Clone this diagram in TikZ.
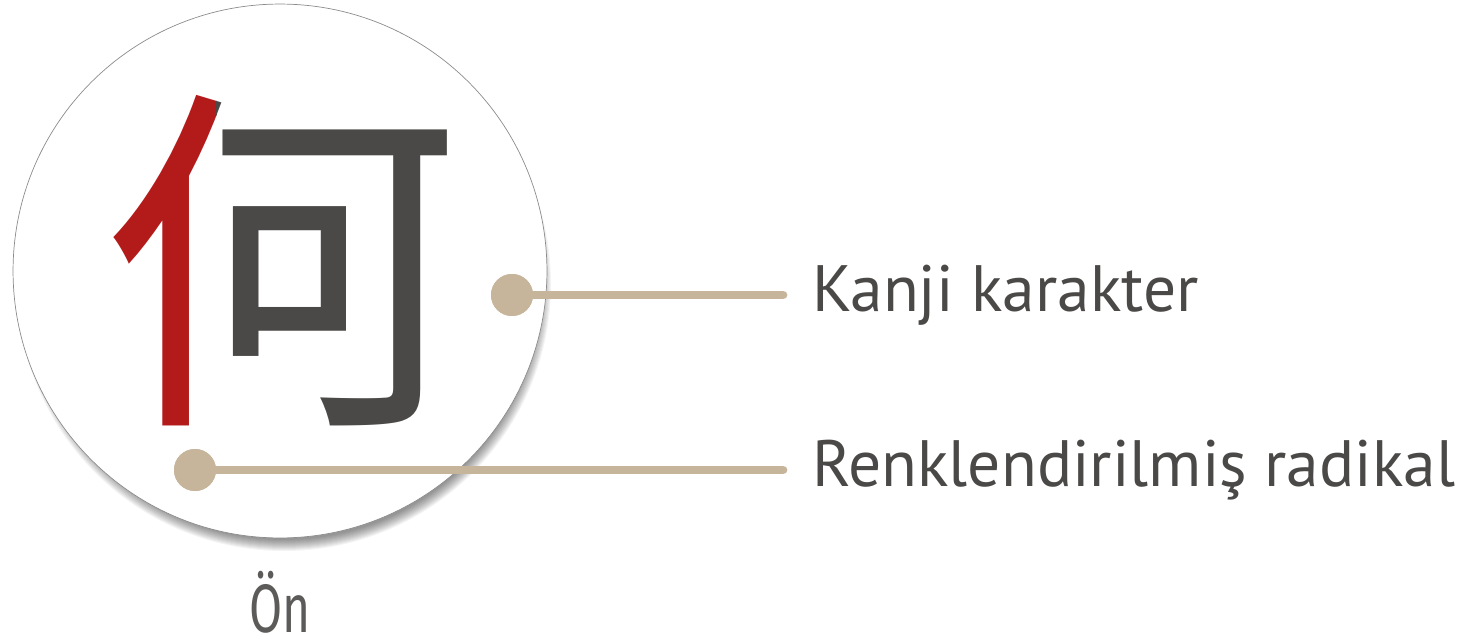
\documentclass[tikz,border=0pt]{standalone}
\usepackage{fontspec}
\setmainfont{PT Sans}
\newfontfamily\cjkfont{Noto Sans CJK JP}
\newfontfamily\capfont{Fira Sans}
\definecolor{radred}{HTML}{B31B1B}
\definecolor{inkgray}{HTML}{4A4947}
\definecolor{leadtan}{HTML}{C6B59A}

\begin{document}
\begin{tikzpicture}[x=0.02cm, y=-0.02cm]
    \tikzset{
        kanji/.style={inner sep=0pt, font=\cjkfont\fontsize{205}{205}\selectfont},
        dot/.style={circle, fill=leadtan, inner sep=0pt, minimum size=0.84cm},
        lead/.style={draw=leadtan, line width=5pt, line cap=round},
        tag/.style={anchor=west, inner sep=0pt, text=inkgray, font=\fontsize{37.3}{40}\selectfont},
    }
    \useasboundingbox (0,0) rectangle (1466,642);

    % Shadow and circle
    \foreach \k in {0,...,11}
        \fill[black, opacity=0.045] (284,284) circle ({256+\k});
    \node[circle, draw=black!45, line width=0.4pt, fill=white, minimum size=10.68cm] (disc) at (280,271) {};

    % Kanji
    \begin{scope}
        \clip (0,0) rectangle (216,642);
        \node[kanji, text=radred] (kanjiL) at (281,261) {何};
    \end{scope}
    \begin{scope}
        \clip (216,0) rectangle (560,642);
        \node[kanji, text=inkgray] (kanjiR) at (281,261) {何};
    \end{scope}

    % Leaders
    \node[dot] (d1) at (512,295) {};
    \node[dot] (d2) at (195,470) {};
    \coordinate (e1) at (783,295);
    \coordinate (e2) at (783,470);
    \draw[lead] (d1.center) -- (e1);
    \draw[lead] (d2.center) -- (e2);
    \node[dot] at (d1) {};
    \node[dot] at (d2) {};

    % Labels
    \node[tag] (t1) at (812,295) {Kanji karakter};
    \node[tag] (t2) at (812,470) {Renklendirilmiş radikal};
    \node[inner sep=0pt, text=inkgray!90, font=\capfont\fontsize{39}{40}\selectfont] (front) at (280,602) {\scalebox{0.7}[1]{Ön}};
\end{tikzpicture}
\end{document}
